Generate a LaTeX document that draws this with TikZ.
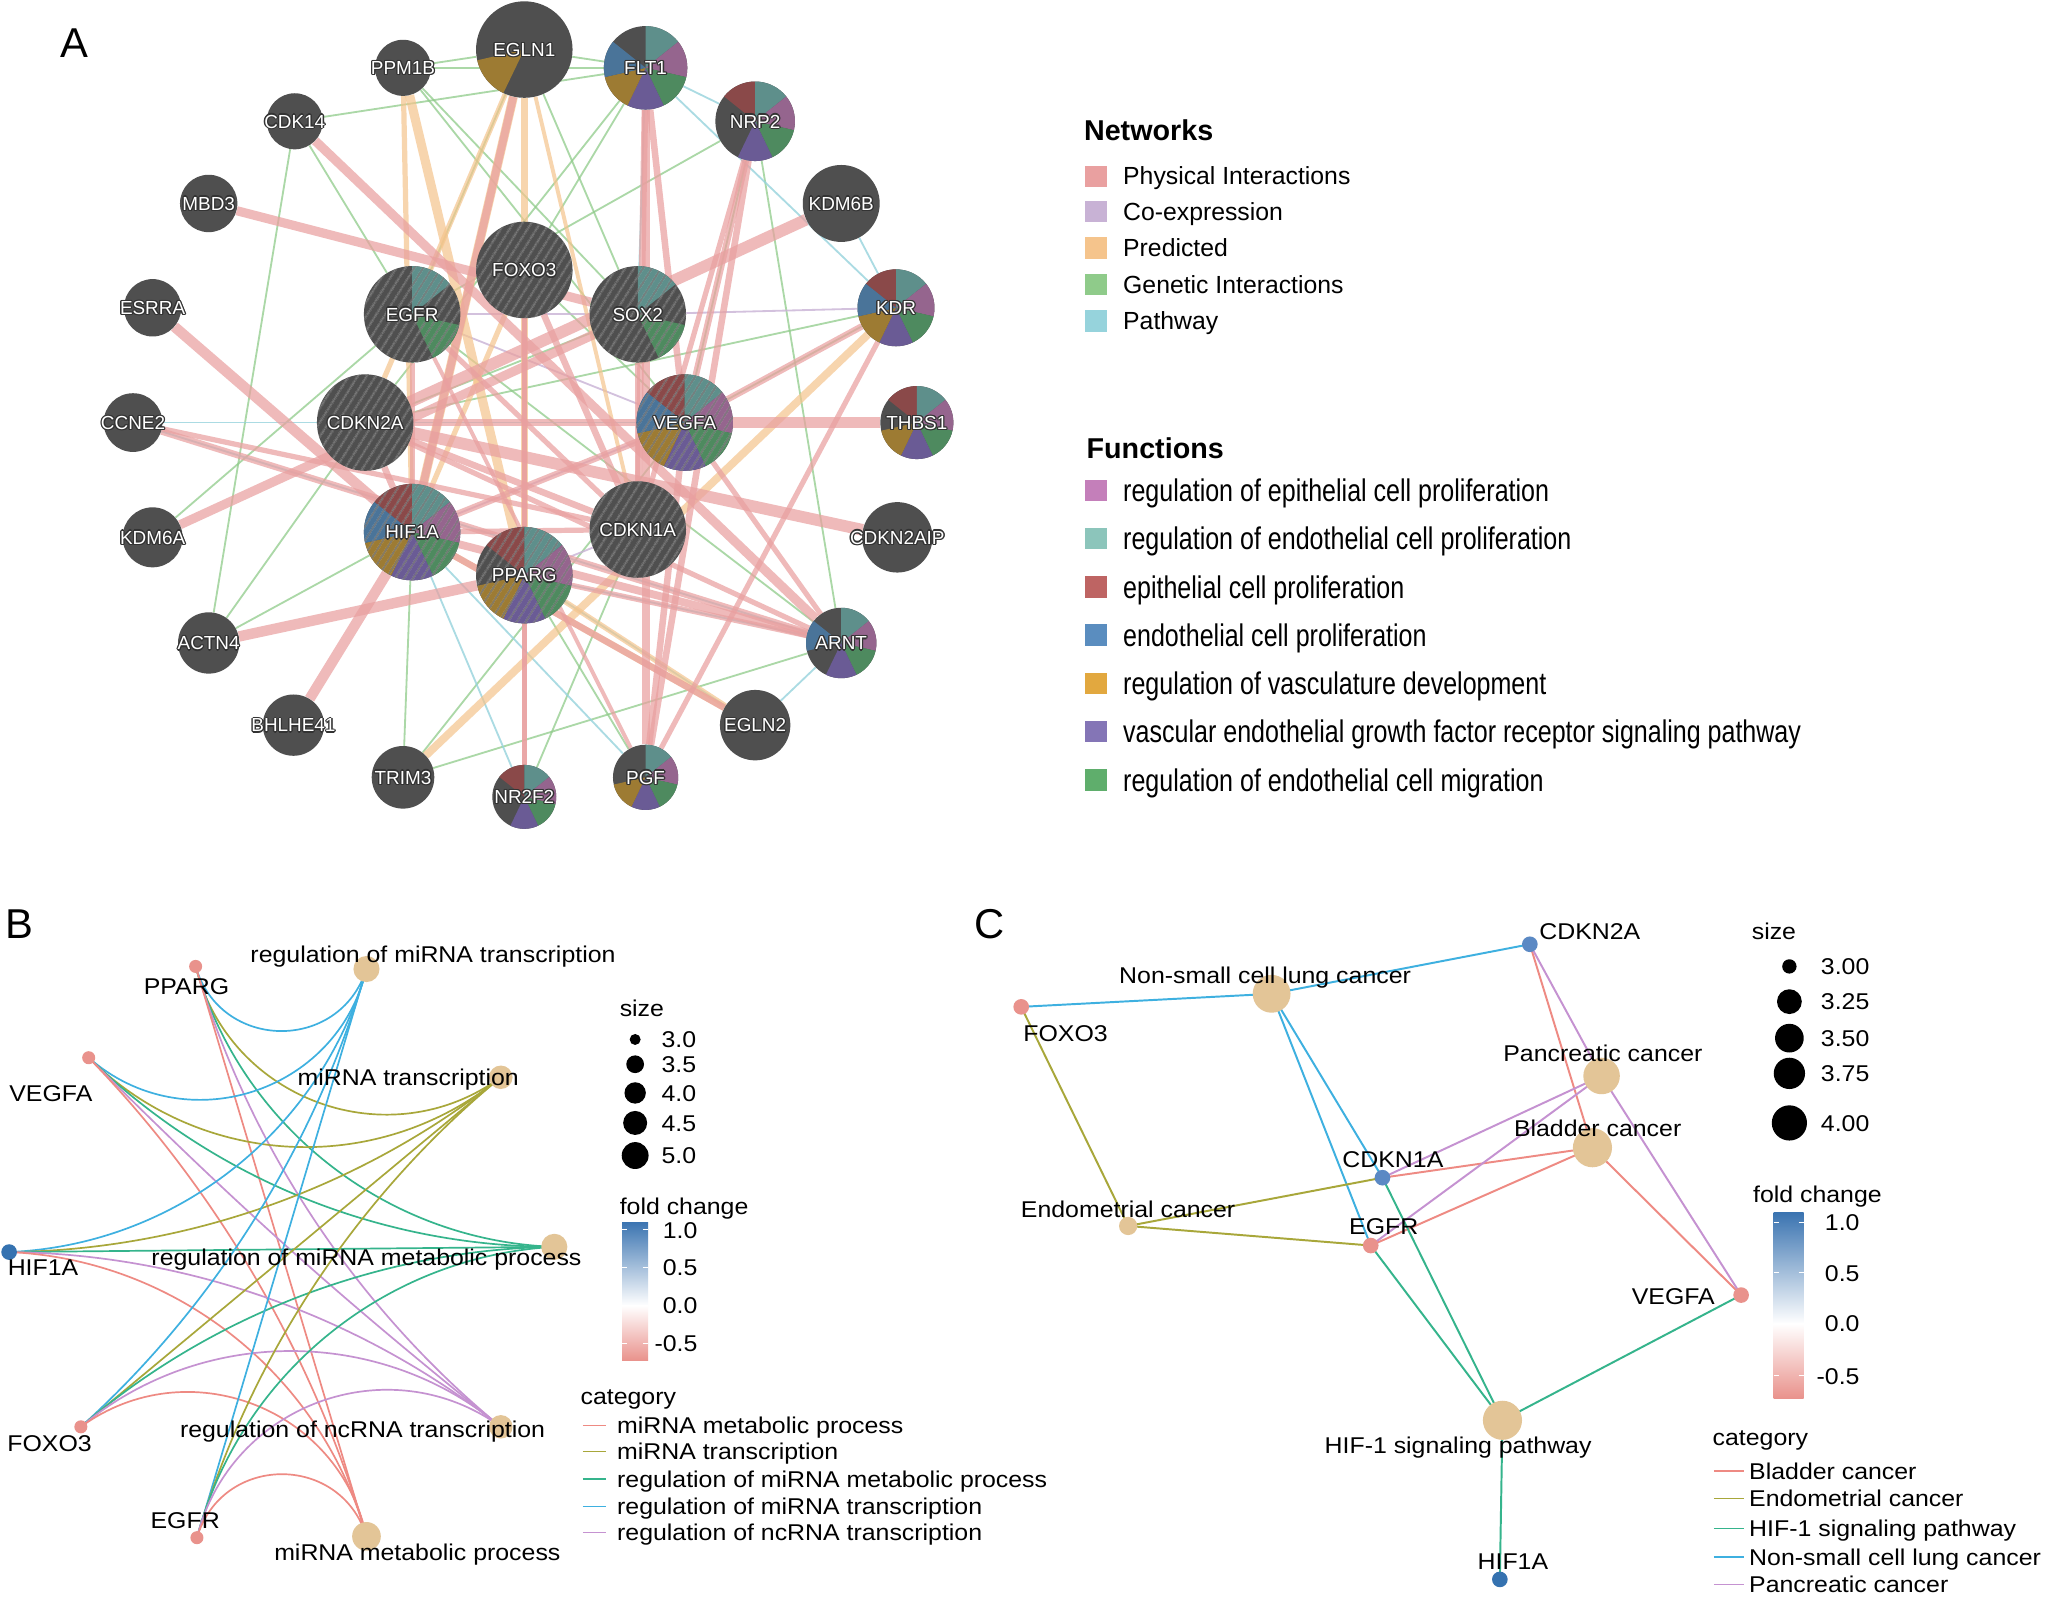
\documentclass[tikz,border=0pt]{standalone}
\usepackage{fontspec}
\setmainfont{Liberation Sans}
\newfontfamily\nfam[FakeStretch=0.8]{Liberation Sans}
\newfontfamily\wfam[FakeStretch=1.09]{Liberation Sans}
\usetikzlibrary{patterns.meta}
\pgfdeclarelayer{bg}
\pgfsetlayers{bg,main}
\definecolor{ngray}{HTML}{4F4F4F}
\definecolor{halo}{HTML}{333333}
\definecolor{hatchc}{HTML}{7C7C7C}
\definecolor{pTeal}{HTML}{5E8F8B}
\definecolor{pMag}{HTML}{95658E}
\definecolor{pGreen}{HTML}{4E8A5F}
\definecolor{pPurp}{HTML}{6A5B95}
\definecolor{pGold}{HTML}{9D7B33}
\definecolor{pBlue}{HTML}{4A7499}
\definecolor{pRed}{HTML}{8A4949}
\definecolor{cPhys}{HTML}{E9A0A0}
\definecolor{cCoex}{HTML}{C8B2D5}
\definecolor{cPred}{HTML}{F5C48C}
\definecolor{cGen}{HTML}{8FCB8A}
\definecolor{cPw}{HTML}{96D3DC}
\definecolor{fEpi}{HTML}{C47FBA}
\definecolor{fEndoR}{HTML}{8CC5BB}
\definecolor{fEpiP}{HTML}{BE6463}
\definecolor{fEndoP}{HTML}{5A8DBF}
\definecolor{fVasc}{HTML}{E2A83F}
\definecolor{fVegf}{HTML}{8475B6}
\definecolor{fMig}{HTML}{5FAE6C}
\definecolor{catRed}{HTML}{EE8A83}
\definecolor{catOlive}{HTML}{A8A73A}
\definecolor{catGreen}{HTML}{35B48C}
\definecolor{catBlue}{HTML}{3EB0E0}
\definecolor{catPurp}{HTML}{C592D1}
\definecolor{tan}{HTML}{E3C597}
\definecolor{fcPink}{HTML}{E9928C}
\definecolor{fcBlue}{HTML}{3B74B1}
\definecolor{dBlue}{HTML}{5B89C4}
\definecolor{dBlue2}{HTML}{3572B0}
\newsavebox\halobox
\newcommand{\hal}[1]{\setbox\halobox\hbox{#1}%
 \rlap{\color{halo}\kern-1pt\copy\halobox}%
 \rlap{\color{halo}\kern1pt\copy\halobox}%
 \rlap{\color{halo}\raise1pt\copy\halobox}%
 \rlap{\color{halo}\lower1pt\copy\halobox}%
 \rlap{\color{halo}\kern0.7pt\raise0.7pt\copy\halobox}%
 \rlap{\color{halo}\kern-0.7pt\raise0.7pt\copy\halobox}%
 \rlap{\color{halo}\kern0.7pt\lower0.7pt\copy\halobox}%
 \rlap{\color{halo}\kern-0.7pt\lower0.7pt\copy\halobox}%
 {\color{white}\copy\halobox}}
\newcommand{\pieslices}[3]{\foreach \pk/\pc in {#3}{\fill[\pc] (#1.center) -- ++({\pk*360/7-90}:#2) arc[start angle={\pk*360/7-90}, end angle={(\pk+1)*360/7-90}, radius=#2] -- cycle;}}
\newcommand{\hatchit}[2]{\fill[pattern={Lines[angle=58,distance=6.5pt,line width=1.1pt]}, pattern color=hatchc] (#1.center) circle[radius=#2];}
\newcommand{\bfnt}{\wfam\fontsize{17.5}{20}\selectfont}
\begin{document}
\begin{tikzpicture}[x=1pt,y=-1pt,
  gn/.style={circle, fill=ngray, minimum size=#1, inner sep=0pt},
  glab/.style={inner sep=0pt, font=\fontsize{14.5}{16}\selectfont, text height=10.4pt, text depth=0pt},
  phys/.style={draw=cPhys, line width=#1, opacity=0.72},
  pred/.style={draw=cPred, line width=#1, opacity=0.7},
  gen/.style={draw=cGen, line width=1.4, opacity=0.75},
  pw/.style={draw=cPw, line width=1.4, opacity=0.8},
  coex/.style={draw=cCoex, line width=1.4, opacity=0.8},
  letter/.style={inner sep=0pt, font=\fontsize{32}{36}\selectfont, text height=22.9pt, text depth=0pt},
  ntitle/.style={anchor=west, inner sep=0pt, font=\fontsize{22}{26}\selectfont\bfseries, text height=15.8pt, text depth=0pt},
  nitem/.style={anchor=west, inner sep=0pt, font=\fontsize{19}{22}\selectfont, text height=13.6pt, text depth=0pt},
  fitem/.style={anchor=west, inner sep=0pt, font=\nfam\fontsize{24}{28}\selectfont, text height=17.2pt, text depth=0pt},
  lbl/.style={inner sep=0pt, font=\bfnt, text height=12.5pt, text depth=0pt},
  dot/.style={circle, minimum size=#1, inner sep=0pt, draw=none},
  eRed/.style={draw=catRed, line width=1.3},
  eOlive/.style={draw=catOlive, line width=1.3},
  eTeal/.style={draw=catGreen, line width=1.3},
  eBlue/.style={draw=catBlue, line width=1.3},
  ePurp/.style={draw=catPurp, line width=1.3},
]
\useasboundingbox (0,0) rectangle (1568,1225);
\begin{pgfonlayer}{bg}
\fill[white] (0,0) rectangle (1568,1225);
\end{pgfonlayer}

% ================= Panel A =================
\node[letter] (labA) at (57,33) {A};
\node[gn=74] (EGLN1) at (402,38) {};
\node[gn=43] (PPM1B) at (309,52) {};
\node[gn=43] (CDK14) at (226,93) {};
\node[gn=44] (MBD3) at (160,156) {};
\node[gn=44] (ESRRA) at (117,236) {};
\node[gn=74] (EGFR) at (316,241) {};
\node[gn=74] (FOXO3) at (402,207) {};
\node[gn=74] (SOX2) at (489,241) {};
\node[gn=64] (FLT1) at (495,52) {};
\node[gn=61] (NRP2) at (579,93) {};
\node[gn=59] (KDM6B) at (645,156) {};
\node[gn=59] (KDR) at (687,236) {};
\node[gn=74] (VEGFA) at (525,324) {};
\node[gn=56] (THBS1) at (703,324) {};
\node[gn=74] (CDKN1A) at (489,406) {};
\node[gn=74] (PPARG) at (402,441) {};
\node[gn=54] (CDKN2AIP) at (688,412) {};
\node[gn=54] (ARNT) at (645,493) {};
\node[gn=54] (EGLN2) at (579,556) {};
\node[gn=50] (PGF) at (495,596) {};
\node[gn=49] (NR2F2) at (402,611) {};
\node[gn=48] (TRIM3) at (309,596) {};
\node[gn=47] (BHLHE41) at (225,556) {};
\node[gn=47] (ACTN4) at (160,493) {};
\node[gn=46] (KDM6A) at (117,412) {};
\node[gn=45] (CCNE2) at (102,324) {};
\node[gn=74] (CDKN2A) at (280,324) {};
\node[gn=74] (HIF1A) at (316,408) {};

\begin{pgfonlayer}{bg}
\foreach \ea/\eb in {PPM1B/EGLN1, PPM1B/FLT1, PPM1B/SOX2, PPM1B/VEGFA, CDK14/FLT1, CDK14/EGFR, CDK14/ACTN4, ACTN4/CDKN2A, ACTN4/HIF1A, KDM6A/EGFR, EGLN1/FLT1, EGLN1/SOX2, FLT1/CDKN2A, NRP2/ARNT, NRP2/VEGFA, KDR/VEGFA, KDR/CDKN2A, TRIM3/HIF1A, TRIM3/VEGFA, ARNT/TRIM3, NR2F2/CDKN1A, FLT1/FOXO3, NRP2/EGFR, SOX2/CDKN2A, EGLN1/EGFR, FOXO3/VEGFA, PPARG/PGF, EGFR/ARNT}
  {\draw[gen] (\ea) -- (\eb);}
\foreach \ea/\eb in {FLT1/KDR, FLT1/NRP2, KDM6B/KDR, ARNT/EGLN2, PPARG/ARNT, CCNE2/ARNT, HIF1A/NR2F2, EGLN2/PPARG, HIF1A/PGF, CCNE2/VEGFA, FLT1/SOX2}
  {\draw[pw] (\ea) -- (\eb);}
\foreach \ea/\eb in {SOX2/KDR, EGFR/SOX2, EGFR/VEGFA, PPARG/CDKN1A, HIF1A/VEGFA}
  {\draw[coex] (\ea) -- (\eb);}
\foreach \ea/\eb/\ew in {PPM1B/PPARG/7, EGLN1/HIF1A/7, EGLN1/PPARG/5, EGLN1/CDKN2A/4, TRIM3/KDR/6, EGLN2/HIF1A/5, EGLN2/PPARG/4, FOXO3/HIF1A/4, PPM1B/HIF1A/4, EGLN1/CDKN1A/3}
  {\draw[pred=\ew] (\ea) -- (\eb);}
\foreach \ea/\eb/\ew in {MBD3/SOX2/7, ESRRA/HIF1A/8, CDK14/ARNT/7, CCNE2/ARNT/5, CCNE2/CDKN1A/4, KDM6A/SOX2/7, ACTN4/PPARG/8, BHLHE41/HIF1A/8, CDKN2AIP/CDKN2A/9, THBS1/VEGFA/9, CDKN2A/VEGFA/6, KDM6B/CDKN2A/9, FLT1/PGF/6, FLT1/VEGFA/5, FLT1/CDKN1A/5, NRP2/PGF/5, NRP2/VEGFA/5, NRP2/CDKN1A/4, KDR/VEGFA/5, KDR/PGF/4, VEGFA/ARNT/4, VEGFA/PGF/5, HIF1A/ARNT/6, PPARG/ARNT/4, CDKN2A/ARNT/4, HIF1A/VEGFA/5, HIF1A/CDKN1A/4, HIF1A/EGLN1/6, HIF1A/EGLN2/5, FOXO3/CDKN1A/5, FOXO3/PPARG/4, EGFR/CDKN1A/4, NR2F2/FOXO3/4, NR2F2/PPARG/4, CDKN2A/HIF1A/5, CDKN2A/CDKN1A/5, EGFR/HIF1A/4, SOX2/CDKN1A/4, EGFR/PGF/3}
  {\draw[phys=\ew] (\ea) -- (\eb);}
\end{pgfonlayer}

\pieslices{FLT1}{32}{0/pTeal,1/pMag,2/pGreen,3/pPurp,4/pGold,5/pBlue}
\pieslices{NRP2}{30.5}{6/pRed,0/pTeal,1/pMag,2/pGreen,3/pPurp}
\pieslices{KDR}{29.5}{6/pRed,0/pTeal,1/pMag,2/pGreen,3/pPurp,4/pGold,5/pBlue}
\pieslices{THBS1}{28}{6/pRed,0/pTeal,1/pMag,2/pGreen,3/pPurp,4/pGold}
\pieslices{VEGFA}{37}{6/pRed,0/pTeal,1/pMag,2/pGreen,3/pPurp,4/pGold,5/pBlue}
\pieslices{HIF1A}{37}{6/pRed,0/pTeal,1/pMag,2/pGreen,3/pPurp,4/pGold,5/pBlue}
\pieslices{PPARG}{37}{6/pRed,0/pTeal,1/pMag,2/pGreen,3/pPurp,4/pGold}
\pieslices{ARNT}{27}{0/pTeal,1/pMag,2/pGreen,3/pPurp,5/pBlue}
\pieslices{PGF}{25}{0/pTeal,1/pMag,2/pGreen,3/pPurp,4/pGold}
\pieslices{NR2F2}{24.5}{6/pRed,0/pTeal,1/pMag,2/pGreen,3/pPurp}
\pieslices{EGFR}{37}{0/pTeal,2/pGreen}
\pieslices{SOX2}{37}{0/pTeal,2/pGreen}
\pieslices{EGLN1}{37}{4/pGold}
\foreach \hn in {EGFR,FOXO3,SOX2,CDKN2A,HIF1A,PPARG,CDKN1A,VEGFA}
  {\hatchit{\hn}{37}}

\foreach \gname in {EGLN1,PPM1B,CDK14,MBD3,ESRRA,EGFR,FOXO3,SOX2,FLT1,NRP2,KDM6B,KDR,VEGFA,THBS1,CDKN1A,PPARG,CDKN2AIP,ARNT,EGLN2,PGF,NR2F2,TRIM3,BHLHE41,ACTN4,KDM6A,CCNE2,CDKN2A,HIF1A}
  {\node[glab] (\gname-l) at (\gname) {\hal{\gname}};}

% legend A
\node[ntitle] (netT) at (831,100) {Networks};
\fill[cPhys] (832,127) rectangle (848.5,143.5);
\node[nitem] (net1) at (861,135) {Physical Interactions};
\fill[cCoex] (832,154) rectangle (848.5,170.5);
\node[nitem] (net2) at (861,162) {Co-expression};
\fill[cPred] (832,182) rectangle (848.5,198.5);
\node[nitem] (net3) at (861,190) {Predicted};
\fill[cGen] (832,210) rectangle (848.5,226.5);
\node[nitem] (net4) at (861,218) {Genetic Interactions};
\fill[cPw] (832,238) rectangle (848.5,254.5);
\node[nitem] (net5) at (861,246) {Pathway};

\node[ntitle] (funT) at (833,344) {Functions};
\foreach \fy/\fcol/\ftxt [count=\fnum] in {376/fEpi/regulation of epithelial cell proliferation, 413/fEndoR/regulation of endothelial cell proliferation, 450/fEpiP/epithelial cell proliferation, 487/fEndoP/endothelial cell proliferation, 524/fVasc/regulation of vasculature development, 561/fVegf/vascular endothelial growth factor receptor signaling pathway, 598/fMig/regulation of endothelial cell migration}{
  \fill[\fcol] (832,\fy-8.25) rectangle (848.5,\fy+8.25);
  \node[fitem] (fun\fnum) at (861,\fy) {\ftxt};
}

% ================= Panel B =================
\node[letter] (labB) at (15,708) {B};
\node[dot=10,fill=fcPink] (bPPARG) at (150,741) {};
\node[dot=10,fill=fcPink] (bVEGFA) at (68,811) {};
\node[dot=12,fill=dBlue2] (bHIF1A) at (7,960) {};
\node[dot=10,fill=fcPink] (bFOXO3) at (62,1094) {};
\node[dot=10,fill=fcPink] (bEGFR) at (151,1179) {};
\node[dot=20,fill=tan] (bRmt) at (281,743) {};
\node[dot=18,fill=tan] (bMt) at (384,826) {};
\node[dot=20,fill=tan] (bRmm) at (425,956) {};
\node[dot=18,fill=tan] (bRnt) at (384,1094) {};
\node[dot=22,fill=tan] (bMm) at (281,1178) {};
\begin{pgfonlayer}{bg}
\draw[eBlue] (bPPARG.center) to[bend right=73,looseness=1.32] (bRmt.center);
\draw[eOlive] (bPPARG.center) to[bend right=56,looseness=1.09] (bMt.center);
\draw[eTeal] (bPPARG.center) to[bend right=36,looseness=0.94] (bRmm.center);
\draw[ePurp] (bPPARG.center) to[bend right=17,looseness=0.87] (bRnt.center);
\draw[eRed] (bPPARG.center) -- (bMm.center);
\draw[eBlue] (bVEGFA.center) to[bend right=59,looseness=1.12] (bRmt.center);
\draw[eOlive] (bVEGFA.center) to[bend right=42,looseness=0.98] (bMt.center);
\draw[eTeal] (bVEGFA.center) to[bend right=22,looseness=0.89] (bRmm.center);
\draw[ePurp] (bVEGFA.center) to[bend right=3] (bRnt.center);
\draw[eRed] (bVEGFA.center) to[bend left=14,looseness=0.86] (bMm.center);
\draw[eBlue] (bHIF1A.center) to[bend right=36,looseness=0.94] (bRmt.center);
\draw[eOlive] (bHIF1A.center) to[bend right=19,looseness=0.87] (bMt.center);
\draw[eTeal] (bHIF1A.center) -- (bRmm.center);
\draw[ePurp] (bHIF1A.center) to[bend left=19,looseness=0.87] (bRnt.center);
\draw[eRed] (bHIF1A.center) to[bend left=36,looseness=0.94] (bMm.center);
\draw[eBlue] (bFOXO3.center) to[bend right=16,looseness=0.86] (bRmt.center);
\draw[eOlive] (bFOXO3.center) -- (bMt.center);
\draw[eTeal] (bFOXO3.center) to[bend left=20,looseness=0.87] (bRmm.center);
\draw[ePurp] (bFOXO3.center) to[bend left=40,looseness=0.96] (bRnt.center);
\draw[eRed] (bFOXO3.center) to[bend left=57,looseness=1.1] (bMm.center);
\draw[eBlue] (bEGFR.center) -- (bRmt.center);
\draw[eOlive] (bEGFR.center) to[bend left=17,looseness=0.87] (bMt.center);
\draw[eTeal] (bEGFR.center) to[bend left=36,looseness=0.94] (bRmm.center);
\draw[ePurp] (bEGFR.center) to[bend left=56,looseness=1.09] (bRnt.center);
\draw[eRed] (bEGFR.center) to[bend left=73,looseness=1.32] (bMm.center);
\end{pgfonlayer}
\node[lbl] (bPPARGl) at (143,756) {PPARG};
\node[lbl] (bVEGFAl) at (39,838) {VEGFA};
\node[lbl] (bHIF1Al) at (33,972) {HIF1A};
\node[lbl] (bFOXO3l) at (38,1107) {FOXO3};
\node[lbl] (bEGFRl) at (142,1166) {EGFR};
\node[lbl] (bRmtl) at (332,732) {regulation of miRNA transcription};
\node[lbl] (bMtl) at (313,826) {miRNA transcription};
\node[lbl] (bRmml) at (281,964) {regulation of miRNA metabolic process};
\node[lbl] (bRntl) at (278,1096) {regulation of ncRNA transcription};
\node[lbl] (bMml) at (320,1190) {miRNA metabolic process};

% legend B
\node[lbl,anchor=west] (bSizeT) at (475,773) {size};
\foreach \sy/\sd/\stxt [count=\snum] in {797/8.4/3.0, 816/13.6/3.5, 838/16.4/4.0, 861/18.4/4.5, 886/20.6/5.0}{
  \node[dot=\sd,fill=black] (bs\snum) at (487,\sy) {};
  \node[lbl,anchor=west] (bst\snum) at (507,\sy) {\stxt};
}
\node[lbl,anchor=west] (bFcT) at (475,925) {fold change};
\shade[top color=fcBlue, bottom color=white] (477,937) rectangle (497,1001);
\shade[top color=white, bottom color=fcPink] (477,1001) rectangle (497,1043);
\foreach \ty/\tval [count=\tnum] in {943/1.0, 972/0.5, 1001/0.0, 1030/-0.5}{
  \draw[white, line width=0.8] (477,\ty) -- (481,\ty) (493,\ty) -- (497,\ty);
  \node[lbl,anchor=east] (bft\tnum) at (535,\ty) {\tval};
}
\node[lbl,anchor=west] (bCatT) at (445,1071) {category};
\foreach \cy/\cstyle/\ctxt [count=\cnum] in {1093/eRed/miRNA metabolic process, 1113/eOlive/miRNA transcription, 1134/eTeal/regulation of miRNA metabolic process, 1155/eBlue/regulation of miRNA transcription, 1175/ePurp/regulation of ncRNA transcription}{
  \coordinate (bk\cnum a) at (447,\cy);
  \coordinate (bk\cnum b) at (465,\cy);
  \draw[\cstyle] (bk\cnum a) -- (bk\cnum b);
  \node[lbl,anchor=west] (bkt\cnum) at (473,\cy) {\ctxt};
}

% ================= Panel C =================
\node[letter] (labC) at (759,708) {C};
\node[dot=12,fill=dBlue] (cCDKN2A) at (1173,724) {};
\node[dot=12,fill=fcPink] (cFOXO3) at (783,772) {};
\node[dot=12,fill=dBlue] (cCDKN1A) at (1060,903) {};
\node[dot=12,fill=fcPink] (cEGFR) at (1051,955) {};
\node[dot=12,fill=fcPink] (cVEGFA) at (1335,993) {};
\node[dot=12,fill=dBlue2] (cHIF1A) at (1150,1211) {};
\node[dot=29,fill=tan] (cNs) at (975,762) {};
\node[dot=28,fill=tan] (cPa) at (1228,825) {};
\node[dot=30,fill=tan] (cBl) at (1221,880) {};
\node[dot=14,fill=tan] (cEn) at (865,940) {};
\node[dot=30,fill=tan] (cHi) at (1152,1089) {};
\begin{pgfonlayer}{bg}
\foreach \cg in {cFOXO3,cCDKN2A,cCDKN1A,cEGFR} {\draw[eBlue,line width=1.5] (cNs.center) -- (\cg.center);}
\foreach \cg in {cFOXO3,cCDKN1A,cEGFR} {\draw[eOlive,line width=1.5] (cEn.center) -- (\cg.center);}
\foreach \cg in {cCDKN2A,cCDKN1A,cEGFR,cVEGFA} {\draw[eRed,line width=1.5] (cBl.center) -- (\cg.center);}
\foreach \cg in {cCDKN2A,cCDKN1A,cEGFR,cVEGFA} {\draw[ePurp,line width=1.5] (cPa.center) -- (\cg.center);}
\foreach \cg in {cCDKN1A,cEGFR,cVEGFA,cHIF1A} {\draw[eTeal,line width=1.5] (cHi.center) -- (\cg.center);}
\end{pgfonlayer}
\node[lbl] (cCDKN2Al) at (1219,714) {CDKN2A};
\node[lbl] (cNsl) at (970,748) {Non-small cell lung cancer};
\node[lbl] (cFOXO3l) at (817,792) {FOXO3};
\node[lbl] (cPal) at (1229,808) {Pancreatic cancer};
\node[lbl] (cBll) at (1225,865) {Bladder cancer};
\node[lbl] (cCDKN1Al) at (1068,889) {CDKN1A};
\node[lbl] (cEnl) at (865,927) {Endometrial cancer};
\node[lbl] (cEGFRl) at (1061,940) {EGFR};
\node[lbl] (cVEGFAl) at (1283,994) {VEGFA};
\node[lbl] (cHil) at (1118,1108) {HIF-1 signaling pathway};
\node[lbl] (cHIF1Al) at (1160,1197) {HIF1A};

% legend C
\node[lbl,anchor=west] (cSizeT) at (1343,714) {size};
\foreach \sy/\sd/\stxt [count=\snum] in {741/11/3.00, 768/19/3.25, 796/22/3.50, 823/24/3.75, 861/27/4.00}{
  \node[dot=\sd,fill=black] (cs\snum) at (1372,\sy) {};
  \node[lbl,anchor=west] (cst\snum) at (1396,\sy) {\stxt};
}
\node[lbl,anchor=west] (cFcT) at (1344,916) {fold change};
\shade[top color=fcBlue, bottom color=white] (1360,930) rectangle (1383,1015);
\shade[top color=white, bottom color=fcPink] (1360,1015) rectangle (1383,1072);
\foreach \ty/\tval [count=\tnum] in {937/1.0, 976/0.5, 1015/0.0, 1055/-0.5}{
  \draw[white, line width=0.8] (1360,\ty) -- (1364,\ty) (1379,\ty) -- (1383,\ty);
  \node[lbl,anchor=east] (cft\tnum) at (1426,\ty) {\tval};
}
\node[lbl,anchor=west] (cCatT) at (1313,1102) {category};
\foreach \cy/\cstyle/\ctxt [count=\cnum] in {1128/eRed/Bladder cancer, 1149/eOlive/Endometrial cancer, 1172/eTeal/HIF-1 signaling pathway, 1194/eBlue/Non-small cell lung cancer, 1215/ePurp/Pancreatic cancer}{
  \coordinate (ck\cnum a) at (1314,\cy);
  \coordinate (ck\cnum b) at (1337,\cy);
  \draw[\cstyle] (ck\cnum a) -- (ck\cnum b);
  \node[lbl,anchor=west] (ckt\cnum) at (1341,\cy) {\ctxt};
}
\end{tikzpicture}
\end{document}
